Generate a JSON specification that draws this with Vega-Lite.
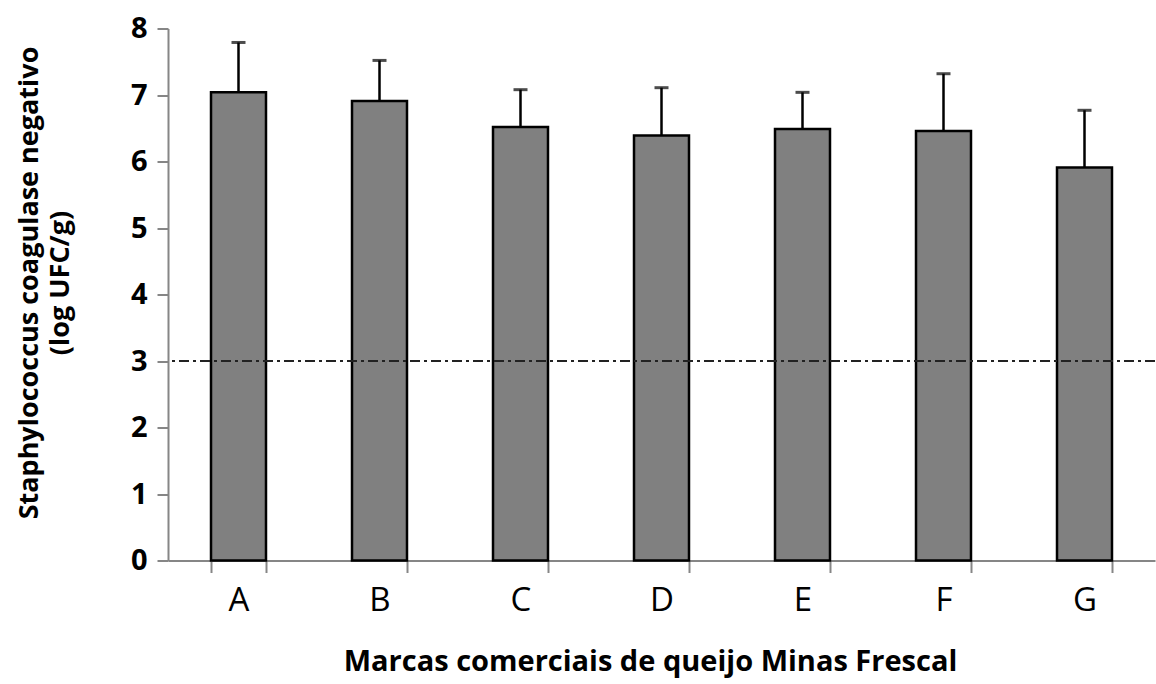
{
  "$schema": "https://vega.github.io/schema/vega-lite/v6.json",
  "autosize": {"type": "none"},
  "width": 987,
  "height": 532,
  "padding": {"left": 168, "top": 28.5, "right": 1, "bottom": 123.5},
  "background": "white",
  "config": {
    "view": {"stroke": null},
    "font": "Open Sans"
  },
  "data": {
    "values": [
      {"marca": "A", "media": 7.04, "superior": 7.79},
      {"marca": "B", "media": 6.91, "superior": 7.52},
      {"marca": "C", "media": 6.52, "superior": 7.08},
      {"marca": "D", "media": 6.39, "superior": 7.11},
      {"marca": "E", "media": 6.49, "superior": 7.04},
      {"marca": "F", "media": 6.46, "superior": 7.32},
      {"marca": "G", "media": 5.91, "superior": 6.77}
    ]
  },
  "encoding": {
    "x": {
      "field": "marca",
      "type": "nominal",
      "scale": {"paddingInner": 0.61, "paddingOuter": 0.305},
      "axis": {
        "title": "Marcas comerciais de queijo Minas Frescal",
        "titleFont": "Open Sans",
        "titleFontSize": 29,
        "titleFontWeight": "bold",
        "titleColor": "black",
        "titlePadding": 30,
        "titleX": 482,
        "labelAngle": 0,
        "labelFont": "Open Sans",
        "labelFontSize": 33,
        "labelFontWeight": "normal",
        "labelColor": "black",
        "labelPadding": 12,
        "tickBand": "extent",
        "tickSize": 12,
        "tickWidth": 2,
        "tickColor": "#868686",
        "domainColor": "#868686",
        "domainWidth": 2,
        "grid": false
      }
    }
  },
  "layer": [
    {
      "mark": {"type": "bar", "fill": "#808080", "stroke": "black", "strokeWidth": 2.5},
      "encoding": {
        "y": {
          "field": "media",
          "type": "quantitative",
          "scale": {"domain": [0, 8], "nice": false},
          "axis": {
            "title": ["Staphylococcus coagulase negativo", "(log UFC/g)"],
            "titleFont": "Open Sans",
            "titleFontSize": 27,
            "titleFontWeight": "bold",
            "titleColor": "black",
            "titlePadding": 56,
            "titleLineHeight": 31,
            "titleY": 254,
            "values": [0, 1, 2, 3, 4, 5, 6, 7, 8],
            "format": "d",
            "labelFont": "Open Sans",
            "labelFontSize": 29,
            "labelFontWeight": "bold",
            "labelColor": "black",
            "labelPadding": 10,
            "tickSize": 11,
            "tickWidth": 2,
            "tickColor": "#868686",
            "domainColor": "#868686",
            "domainWidth": 2,
            "grid": false
          }
        }
      }
    },
    {
      "mark": {"type": "rule", "color": "black", "strokeWidth": 2.5},
      "encoding": {
        "y": {"field": "media", "type": "quantitative"},
        "y2": {"field": "superior"}
      }
    },
    {
      "mark": {"type": "tick", "color": "black", "thickness": 3, "size": 14, "orient": "horizontal"},
      "encoding": {
        "y": {"field": "superior", "type": "quantitative"}
      }
    },
    {
      "data": {"values": [{"limite": 3}]},
      "mark": {"type": "rule", "color": "#222222", "strokeWidth": 2, "strokeDash": [10, 4, 3, 4]},
      "encoding": {
        "x": null,
        "y": {"field": "limite", "type": "quantitative"}
      }
    }
  ]
}
